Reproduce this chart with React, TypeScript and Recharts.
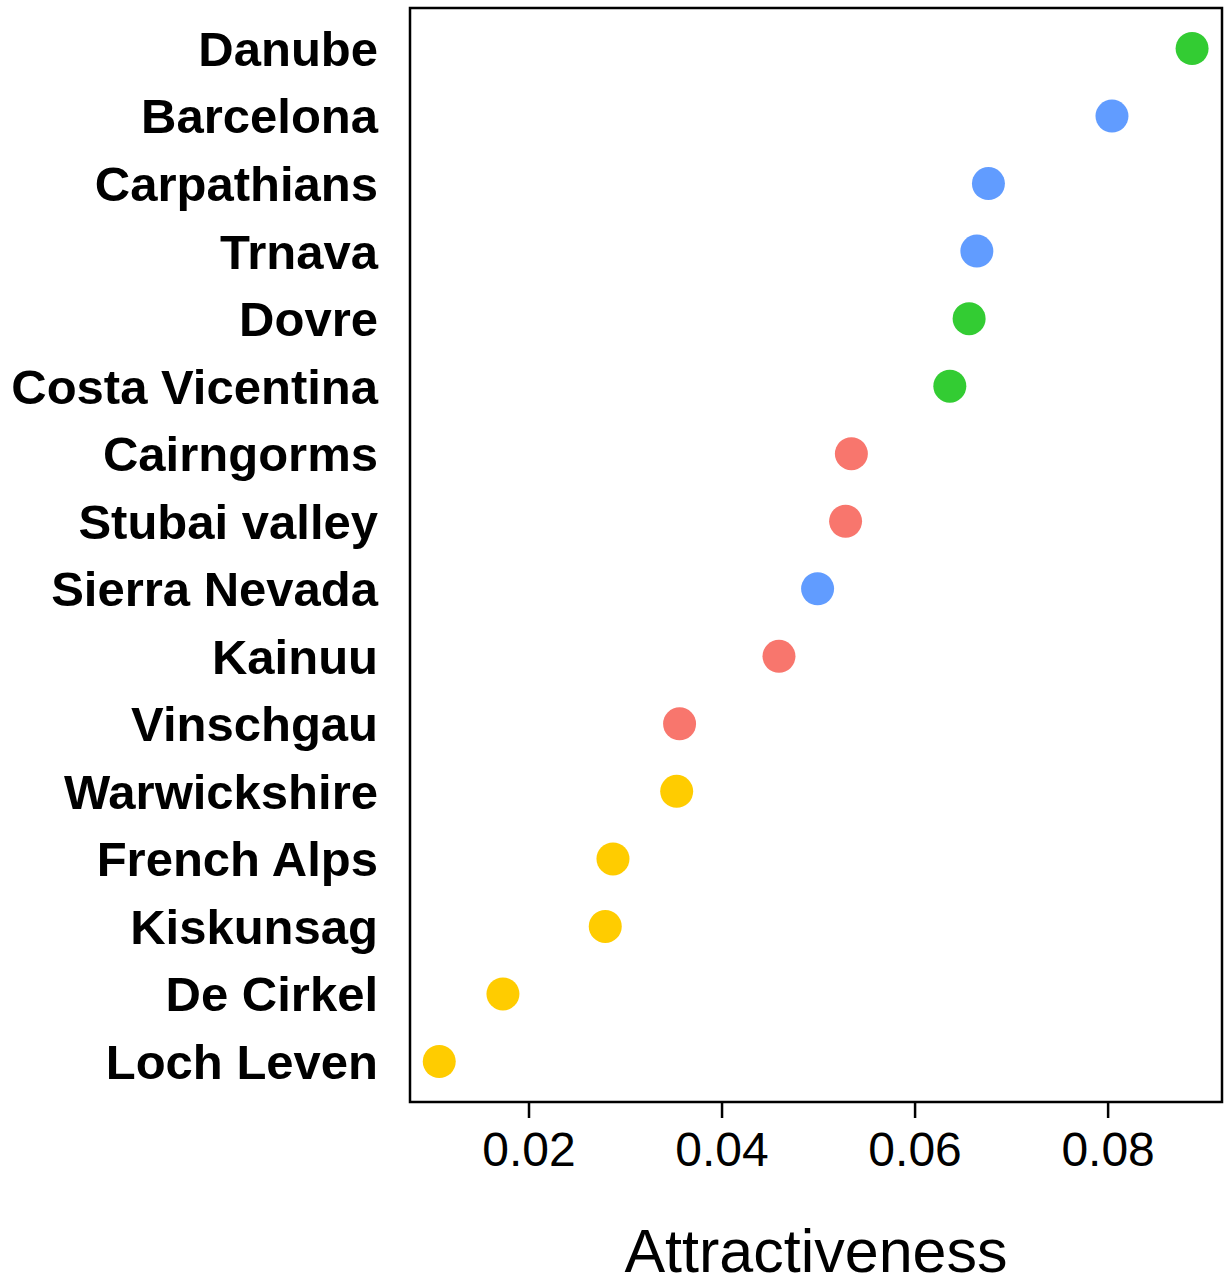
import React from 'react';
import {
  ScatterChart,
  Scatter,
  XAxis,
  YAxis,
  Cell,
  ReferenceArea,
} from 'recharts';

// sites listed top to bottom
const sites = [
  'Danube', 'Barcelona', 'Carpathians', 'Trnava', 'Dovre', 'Costa Vicentina',
  'Cairngorms', 'Stubai valley', 'Sierra Nevada', 'Kainuu', 'Vinschgau',
  'Warwickshire', 'French Alps', 'Kiskunsag', 'De Cirkel', 'Loch Leven',
];
const attractiveness = [
  0.0887, 0.0804, 0.0676, 0.0664, 0.0656, 0.0636,
  0.0534, 0.0528, 0.0499, 0.0459, 0.0356,
  0.0353, 0.0287, 0.0279, 0.0173, 0.0107,
];
const groups = [
  'green', 'blue', 'blue', 'blue', 'green', 'green',
  'red', 'red', 'blue', 'red', 'red',
  'yellow', 'yellow', 'yellow', 'yellow', 'yellow',
];
const xTicks = [0.02, 0.04, 0.06, 0.08];

const groupColors: Record<string, string> = {
  green: '#33CC33',
  blue: '#619CFF',
  red: '#F8766D',
  yellow: '#FFCC00',
};

const xDomain: [number, number] = [0.00767, 0.0918];
const yDomain: [number, number] = [0.4, sites.length + 0.6];

const data = sites.map((name, i) => ({
  name,
  x: attractiveness[i],
  y: sites.length - i,
  group: groups[i],
}));

const font = '"Liberation Sans", Arial, Helvetica, sans-serif';

const Dot = (props: any) => {
  const { cx, cy, fill } = props;
  if (cx == null || cy == null) return null;
  return <circle cx={cx} cy={cy} r={16.5} fill={fill} />;
};

export default function App() {
  return (
    <div style={{ position: 'absolute', left: 0, top: 0, width: 1225, height: 1281, background: '#fff' }}>
      <ScatterChart
        width={1225}
        height={1281}
        margin={{ top: 8, right: 3, bottom: 0, left: 0 }}
        style={{ fontFamily: font }}
      >
        <XAxis
          type="number"
          dataKey="x"
          domain={xDomain}
          ticks={xTicks}
          allowDataOverflow
          height={179}
          axisLine={false}
          tickLine={{ stroke: '#000', strokeWidth: 2.5 }}
          tickSize={16}
          tickMargin={14}
          tick={{ fill: '#000', fontSize: 48, fontFamily: font }}
          label={{
            value: 'Attractiveness',
            position: 'insideBottom',
            offset: 9,
            fill: '#000',
            fontSize: 61,
            fontFamily: font,
          }}
        />
        <YAxis
          type="number"
          dataKey="y"
          domain={yDomain}
          ticks={data.map((d) => d.y)}
          allowDataOverflow
          width={410}
          axisLine={false}
          tickLine={false}
          tickSize={16}
          tickMargin={16}
          tickFormatter={(v: number) => sites[sites.length - v]}
          tick={{ fill: '#000', fontSize: 49, fontWeight: 'bold', fontFamily: font }}
        />
        <ReferenceArea
          x1={xDomain[0]}
          x2={xDomain[1]}
          y1={yDomain[0]}
          y2={yDomain[1]}
          fill="none"
          stroke="#000"
          strokeWidth={2.5}
          ifOverflow="visible"
        />
        <Scatter data={data} isAnimationActive={false} shape={<Dot />}>
          {data.map((d) => (
            <Cell key={d.name} fill={groupColors[d.group]} />
          ))}
        </Scatter>
      </ScatterChart>
    </div>
  );
}
